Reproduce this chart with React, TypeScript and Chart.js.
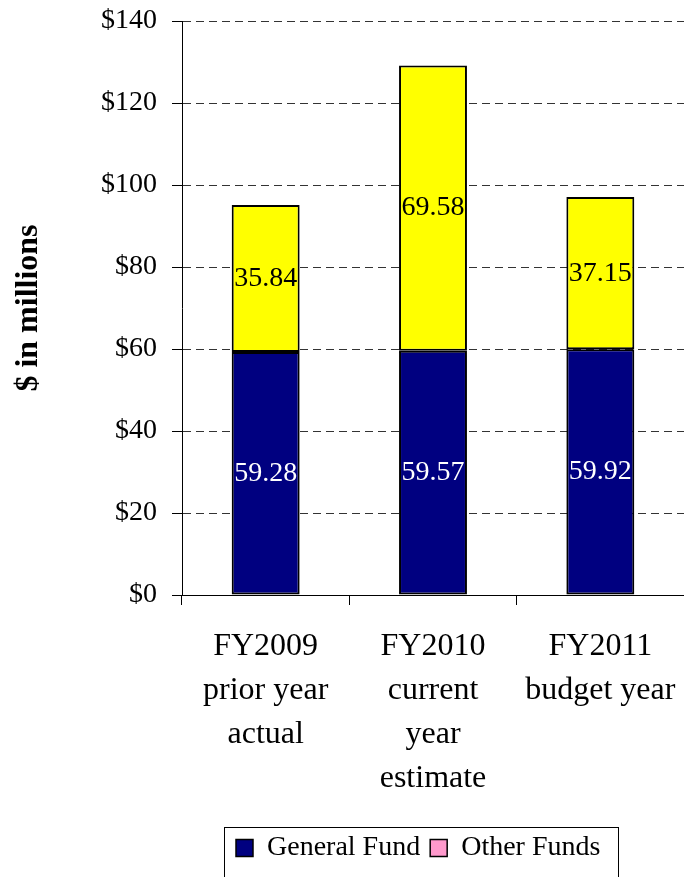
import React, { useEffect, useRef } from 'react';
import { Chart, registerables } from 'chart.js';

Chart.register(...registerables);

// ---- data ----
const categories: string[][] = [
  ['FY2009', 'prior year', 'actual'],
  ['FY2010', 'current', 'year', 'estimate'],
  ['FY2011', 'budget year'],
];
const seriesNames = ['General Fund', 'Other Funds'];
const generalFund = [59.28, 59.57, 59.92];
const otherFunds = [35.84, 69.58, 37.15];
const yMin = 0;
const yMax = 140;
const yStep = 20;
const yAxisTitle = '$ in millions';

// ---- styles ----
const FONT = "'Liberation Serif', 'Times New Roman', serif";
const navy = '#000080';
const yellow = '#FFFF00';
const legendPink = '#FF99CC';

const valueLabels = {
  id: 'valueLabels',
  afterDatasetsDraw(chart: any) {
    const ctx = chart.ctx;
    chart.data.datasets.forEach((ds: any, di: number) => {
      const meta = chart.getDatasetMeta(di);
      meta.data.forEach((el: any, i: number) => {
        const { x, y, base } = el.getProps(['x', 'y', 'base'], true);
        ctx.save();
        ctx.font = `28px ${FONT}`;
        ctx.fillStyle = di === 0 ? '#FFFFFF' : '#000000';
        ctx.textAlign = 'center';
        ctx.textBaseline = 'middle';
        ctx.fillText(Number(ds.data[i]).toFixed(2), x, (y + base) / 2);
        ctx.restore();
      });
    });
  },
};

const legendFrame = {
  id: 'legendFrame',
  afterLayout(chart: any) {
    const lg = chart.legend;
    if (lg) {
      lg.left = 226;
    }
  },
  afterDraw(chart: any) {
    const lg = chart.legend;
    if (!lg || !lg.legendHitBoxes || !lg.legendHitBoxes.length) return;
    const hb = lg.legendHitBoxes;
    const first = hb[0];
    const last = hb[hb.length - 1];
    const ctx = chart.ctx;
    ctx.save();
    ctx.strokeStyle = '#000000';
    ctx.lineWidth = 1;
    const left = Math.round(first.left - 12) + 0.5;
    const right = Math.round(last.left + last.width + 18) + 0.5;
    const top = Math.round(first.top - 7) + 0.5;
    const bottom = top + 60;
    ctx.strokeRect(left, top, right - left, bottom - top);
    ctx.restore();
  },
};

export default function App() {
  const ref = useRef<HTMLCanvasElement | null>(null);

  useEffect(() => {
    if (!ref.current) return;
    Chart.defaults.font.family = FONT;
    Chart.defaults.color = '#000000';
    const chart = new Chart(ref.current, {
      type: 'bar',
      data: {
        labels: categories,
        datasets: [
          {
            label: seriesNames[0],
            data: generalFund,
            backgroundColor: navy,
            borderColor: '#000000',
            borderWidth: 2,
            borderSkipped: false,
            categoryPercentage: 0.406,
            barPercentage: 1,
          },
          {
            label: seriesNames[1],
            data: otherFunds,
            backgroundColor: yellow,
            borderColor: '#000000',
            borderWidth: 2,
            borderSkipped: false,
            categoryPercentage: 0.406,
            barPercentage: 1,
          },
        ],
      },
      options: {
        responsive: false,
        animation: false,
        devicePixelRatio: 1,
        layout: { padding: { top: 21, right: -2, bottom: 5, left: 0 } },
        scales: {
          x: {
            stacked: true,
            grid: {
              display: true,
              drawOnChartArea: false,
              drawTicks: true,
              offset: true,
              tickLength: 10,
              tickColor: '#000000',
              tickWidth: 1,
              color: '#000000',
            },
            border: { display: true, color: '#000000', width: 1 },
            ticks: {
              color: '#000000',
              padding: 20,
              maxRotation: 0,
              autoSkip: false,
              font: { family: FONT, size: 32, lineHeight: 44 / 32 },
            },
            afterFit(scale: any) {
              scale.height = 229;
              scale.paddingLeft = 0;
              scale.paddingRight = 0;
            },
          },
          y: {
            stacked: true,
            min: yMin,
            max: yMax,
            grid: {
              color: '#333333',
              lineWidth: 1,
              tickLength: 10,
              tickColor: '#000000',
              tickWidth: 1,
              tickBorderDash: [],
            },
            border: { display: true, color: '#000000', width: 1, dash: [8, 5] },
            ticks: {
              stepSize: yStep,
              color: '#000000',
              padding: 15,
              font: { family: FONT, size: 28 },
              callback: (v: any) => '$' + v,
            },
            title: {
              display: true,
              text: yAxisTitle,
              color: '#000000',
              padding: { top: 10, bottom: 0 },
              font: { family: FONT, size: 32, weight: 'bold' },
            },
            afterFit(scale: any) {
              scale.width = 182;
              scale.paddingTop = 0;
              scale.paddingBottom = 0;
            },
          },
        },
        plugins: {
          legend: {
            display: true,
            position: 'bottom',
            align: 'start',
            labels: {
              boxWidth: 17,
              boxHeight: 17,
              padding: 10,
              color: '#000000',
              font: { family: FONT, size: 28 },
              generateLabels(ch: any) {
                const base = Chart.defaults.plugins.legend.labels.generateLabels(ch);
                return base.map((item: any, i: number) => ({
                  ...item,
                  fillStyle: i === 0 ? navy : legendPink,
                  strokeStyle: '#000000',
                  lineWidth: 1.5,
                }));
              },
            },
          },
          tooltip: { enabled: false },
        },
      } as any,
      plugins: [valueLabels, legendFrame],
    });
    return () => chart.destroy();
  }, []);

  return (
    <div style={{ position: 'absolute', left: 0, top: 0, width: 684, height: 877, background: '#fff' }}>
      <canvas ref={ref} width={684} height={877} />
    </div>
  );
}
